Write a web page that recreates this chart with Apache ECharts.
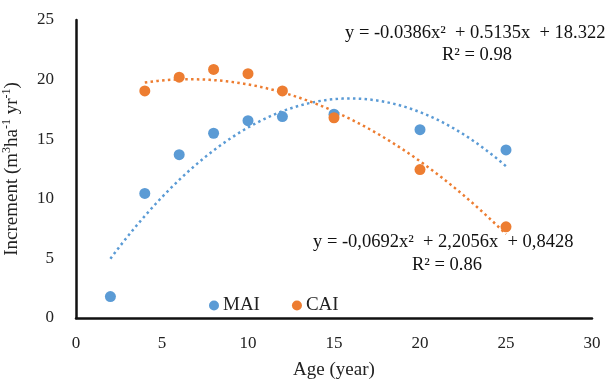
<!DOCTYPE html>
<html>
<head>
<meta charset="utf-8">
<script src="https://cdn.jsdelivr.net/npm/echarts@6/dist/echarts.min.js"></script>
<style>html,body{margin:0;padding:0;background:#fff}#c{width:615px;height:382px}</style>
</head>
<body>
<div id="c"></div>
<script>
// Data
var ages = [2, 4, 6, 8, 10, 12, 15, 20, 25];
var maiValues = [1.8, 10.45, 13.7, 15.5, 16.55, 16.9, 17.1, 15.8, 14.1];
var caiAges = [4, 6, 8, 10, 12, 15, 20, 25];
var caiValues = [19.05, 20.2, 20.85, 20.5, 19.05, 16.8, 12.45, 7.65];
// Trendline coefficients printed on the chart (a, b, c for y = a x^2 + b x + c)
var maiTrendCoef = [-0.0692, 2.2056, 0.8428];
var caiTrendCoef = [-0.0386, 0.5135, 18.322];
var maiTrendRange = [2, 25];
var caiTrendRange = [4, 25];
var maiEquation = 'y = -0,0692x\u00B2  + 2,2056x  + 0,8428';
var maiR2 = 'R\u00B2 = 0.86';
var caiEquation = 'y = -0.0386x\u00B2  + 0.5135x  + 18.322';
var caiR2 = 'R\u00B2 = 0.98';
var xTicks = [0, 5, 10, 15, 20, 25, 30];
var yTicks = [0, 5, 10, 15, 20, 25];

function trend(coef, range) {
  var pts = [];
  for (var x = range[0]; x <= range[1] + 1e-9; x += 0.25) {
    pts.push([x, coef[0] * x * x + coef[1] * x + coef[2]]);
  }
  return pts;
}
function pairs(xs, ys) { return xs.map(function (x, i) { return [x, ys[i]]; }); }

var BLUE = '#5B9BD5', ORANGE = '#ED7D31';
var FONT = 'Liberation Serif';
var EQ_FONT = '18.5px "Liberation Serif"';
var chart = echarts.init(document.getElementById('c'), null, {renderer: 'canvas'});
chart.setOption({
  animation: false,
  textStyle: {fontFamily: FONT},
  grid: {left: 76, right: 23, top: 20, bottom: 64, containLabel: false, outerBoundsMode: 'none'},
  legend: {
    data: ['MAI', 'CAI'],
    left: 204, top: 291,
    icon: 'circle', itemWidth: 10, itemHeight: 10, itemGap: 32,
    textStyle: {fontFamily: FONT, fontSize: 19, color: '#222', padding: [0, 0, 0, -1]}
  },
  xAxis: {
    type: 'value', min: xTicks[0], max: xTicks[xTicks.length - 1], interval: 5,
    name: 'Age (year)', nameLocation: 'middle', nameGap: 43,
    nameTextStyle: {fontFamily: FONT, fontSize: 19, color: '#222'},
    axisLine: {show: true, lineStyle: {color: '#111', width: 2.5}},
    axisTick: {show: false},
    splitLine: {show: false},
    axisLabel: {fontFamily: FONT, fontSize: 17, color: '#222', margin: 17}
  },
  yAxis: {
    type: 'value', min: yTicks[0], max: yTicks[yTicks.length - 1], interval: 5,
    name: '{a|Increment (m}{s|3}{a|ha}{s|-1}{a| yr}{s|-1}{a|)}',
    nameLocation: 'middle', nameGap: 53, nameRotate: 90,
    nameTextStyle: {
      rich: {
        a: {fontFamily: FONT, fontSize: 19, color: '#222'},
        s: {fontFamily: FONT, fontSize: 12, color: '#222', padding: [0, 0, 10, 0]}
      }
    },
    axisLine: {show: true, lineStyle: {color: '#111', width: 2.5}},
    axisTick: {show: false},
    splitLine: {show: false},
    axisLabel: {fontFamily: FONT, fontSize: 17, color: '#222', margin: 22}
  },
  series: [
    {name: 'MAI trend', type: 'line', data: trend(maiTrendCoef, maiTrendRange), showSymbol: false, silent: true,
     lineStyle: {color: BLUE, width: 2.5, type: [2.5, 3.3]}, z: 1},
    {name: 'CAI trend', type: 'line', data: trend(caiTrendCoef, caiTrendRange), showSymbol: false, silent: true,
     lineStyle: {color: ORANGE, width: 2.5, type: [2.5, 3.3]}, z: 1},
    {name: 'MAI', type: 'scatter', data: pairs(ages, maiValues), symbolSize: 11,
     itemStyle: {color: BLUE, opacity: 1}, z: 3},
    {name: 'CAI', type: 'scatter', data: pairs(caiAges, caiValues), symbolSize: 11,
     itemStyle: {color: ORANGE, opacity: 1}, z: 4}
  ],
  graphic: [
    {type: 'text', x: 345, y: 33, style: {text: caiEquation, font: EQ_FONT, fill: '#111', textVerticalAlign: 'middle'}},
    {type: 'text', x: 477, y: 55, style: {text: caiR2, font: EQ_FONT, fill: '#111', textAlign: 'center', textVerticalAlign: 'middle'}},
    {type: 'text', x: 313, y: 242, style: {text: maiEquation, font: EQ_FONT, fill: '#111', textVerticalAlign: 'middle'}},
    {type: 'text', x: 447, y: 265, style: {text: maiR2, font: EQ_FONT, fill: '#111', textAlign: 'center', textVerticalAlign: 'middle'}}
  ]
});
</script>
</body>
</html>
